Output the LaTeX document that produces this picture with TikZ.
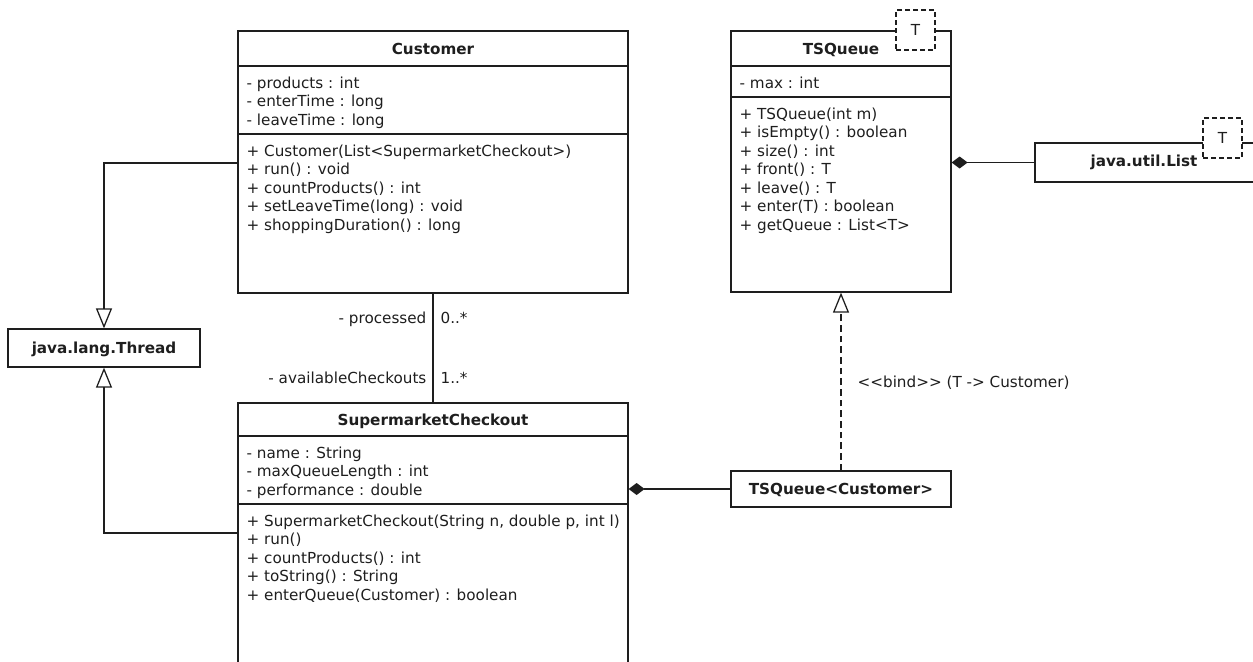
\documentclass[tikz,border=0pt]{standalone}
\usepackage{fontspec}
\setmainfont{DejaVu Sans}
\usetikzlibrary{arrows.meta,fit}
\definecolor{ink}{RGB}{30,30,30}
\newcommand\umlfont{\fontsize{11.4pt}{13.9pt}\selectfont}
\begin{document}
\begin{tikzpicture}[x=0.75pt,y=-0.75pt,line width=0.95pt,
  cls/.style={draw=ink,fill=white,inner sep=0pt},
  sepline/.style={draw=ink},
  ctitle/.style={font=\umlfont\bfseries,anchor=base,inner sep=0pt,text=ink},
  members/.style={font=\umlfont,align=left,anchor=north west,inner sep=0pt,text=ink},
  lbl/.style={font=\umlfont,inner sep=0pt,text=ink},
  tparam/.style={draw=ink,dash pattern=on 3.75pt off 2.25pt,fill=white,inner sep=0pt,
    minimum width=29.25pt,minimum height=30pt,font=\umlfont,text=ink},
  inherit/.style={draw=ink,-{Triangle[open,width=12pt,length=15pt]}},
  realize/.style={draw=ink,dash pattern=on 5pt off 3pt,-{Triangle[open,width=12pt,length=15pt]}},
  comp/.style={draw=ink,{Diamond[length=12pt,width=9pt]}-},
  assoc/.style={draw=ink}]
\clip (0,0) rectangle (1253,661);
\fill[white] (0,0) rectangle (1253,661);

% Customer
\node[cls,fit={(238,31) (628,293)}] (cust) {};
\draw[sepline] (238,66) -- (628,66);
\draw[sepline] (238,134) -- (628,134);
\node[ctitle] (custt) at (433,54) {Customer};
\node[members] (custa) at (246,74.5) {\strut- products : int\\\strut- enterTime : long\\\strut- leaveTime : long};
\node[members] (custm) at (246,142.5) {\strut+ Customer(List<SupermarketCheckout>)\\\strut+ run() : void\\\strut+ countProducts() : int\\\strut+ setLeaveTime(long) : void\\\strut+ shoppingDuration() : long};

% SupermarketCheckout
\node[cls,fit={(238,403) (628,675)}] (chk) {};
\draw[sepline] (238,436) -- (628,436);
\draw[sepline] (238,504) -- (628,504);
\node[ctitle] (chkt) at (433,425) {SupermarketCheckout};
\node[members] (chka) at (246,444.5) {\strut- name : String\\\strut- maxQueueLength : int\\\strut- performance : double};
\node[members] (chkm) at (246,512.5) {\strut+ SupermarketCheckout(String n, double p, int l)\\\strut+ run()\\\strut+ countProducts() : int\\\strut+ toString() : String\\\strut+ enterQueue(Customer) : boolean};

% java.lang.Thread
\node[cls,fit={(8,329) (200,367)}] (thread) {};
\node[ctitle] (threadt) at (104,353) {java.lang.Thread};

% TSQueue
\node[cls,fit={(731,31) (951,292)}] (tsq) {};
\draw[sepline] (731,66) -- (951,66);
\draw[sepline] (731,97) -- (951,97);
\node[ctitle] (tsqt) at (841,54) {TSQueue};
\node[members] (tsqa) at (739,74.5) {\strut- max : int};
\node[members] (tsqm) at (739,105.5) {\strut+ TSQueue(int m)\\\strut+ isEmpty() : boolean\\\strut+ size() : int\\\strut+ front() : T\\\strut+ leave() : T\\\strut+ enter(T) : boolean\\\strut+ getQueue : List<T>};
\node[tparam] (tsqparam) at (915.5,30) {T};

% java.util.List
\node[cls,fit={(1035,143) (1258,182)}] (list) {};
\node[ctitle] (listt) at (1144,166) {java.util.List};
\node[tparam] (listparam) at (1222.5,138) {T};

% TSQueue<Customer>
\node[cls,fit={(731,471) (951,507)}] (tsqc) {};
\node[ctitle] (tsqct) at (841,494) {TSQueue<Customer>};

% connectors
\coordinate (custgen) at (238,163);
\coordinate (chkgen) at (238,533);
\draw[inherit] (custgen) -| (thread.north);
\draw[inherit] (chkgen) -| (thread.south);
\draw[assoc] (cust.south) -- (chk.north);
\draw[comp] (tsq.east |- list.west) -- (list.west);
\draw[comp] (chk.east |- tsqc.west) -- (tsqc.west);
\draw[realize] (tsqc.north) -- (tsq.south);

% labels
\node[lbl,anchor=base east] (lproc) at (427,323) {- processed};
\node[lbl,anchor=base west] (lprocm) at (440,323) {0..*};
\node[lbl,anchor=base east] (lavail) at (427,383) {- availableCheckouts};
\node[lbl,anchor=base west] (lavailm) at (440,383) {1..*};
\node[lbl,anchor=base west] (lbind) at (857,387) {<\kern0pt<bind>\kern0pt> (T -\kern0pt> Customer)};
\end{tikzpicture}
\end{document}
